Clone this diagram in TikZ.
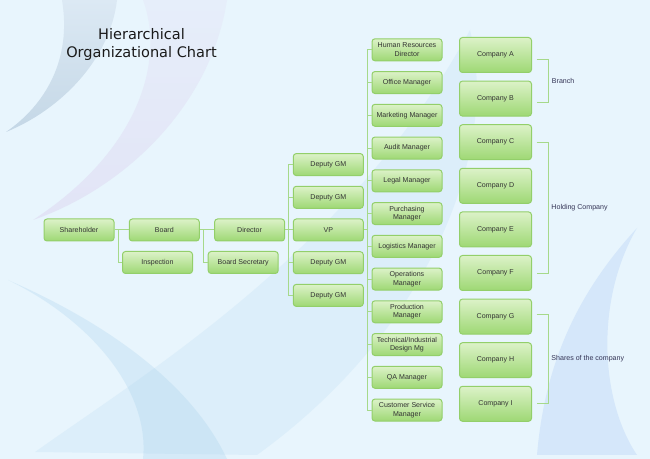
\documentclass[tikz,border=0pt]{standalone}
\usepackage{fontspec}
\setmainfont{Liberation Sans}
\newfontfamily\titlefont{DejaVu Sans}
\newcommand\boxfont{\fontsize{5.3}{6.5}\selectfont}
\definecolor{bg}{HTML}{E8F5FD}
\definecolor{gtop}{HTML}{DCF2C8}
\definecolor{gbot}{HTML}{9ED874}
\definecolor{boxline}{HTML}{93CF6A}
\definecolor{linkc}{HTML}{A6D98A}
\definecolor{txt}{HTML}{333333}
\definecolor{lblc}{HTML}{333355}
\definecolor{titlec}{HTML}{1A1A1A}
\definecolor{swgraytop}{HTML}{DCE9F4}
\definecolor{swgraybot}{HTML}{C4D7E6}
\definecolor{swlavtop}{HTML}{E6EEFA}
\definecolor{swlavbot}{HTML}{E2E4F6}
\definecolor{swblue}{HTML}{A0CDEB}
\definecolor{swright}{HTML}{D5E7FA}
\begin{document}
\begin{tikzpicture}[x=0.75pt,y=-0.75pt,
  box/.style={draw=boxline, line width=0.75pt, rounded corners=2.25pt,
    top color=gtop, bottom color=gbot, inner sep=0pt, align=center,
    font=\boxfont, text=txt, minimum width=52.5pt, minimum height=16.5pt},
  cbox/.style={box, minimum width=54pt, minimum height=26.25pt},
  link/.style={draw=linkc, line width=0.75pt},
  lbl/.style={font=\boxfont, text=lblc, anchor=west, inner sep=0pt}]
% background
\fill[bg] (0,0) rectangle (650,459);
\useasboundingbox (0,0) rectangle (650,459);
\shade[top color=swgraytop, bottom color=swgraybot] (6,132) .. controls (45,105) and (72,60) .. (62,0) -- (117,0) .. controls (110,60) and (60,110) .. (6,132);
\shade[top color=swlavtop, bottom color=swlavbot] (143,0) .. controls (165,60) and (140,150) .. (33,220) .. controls (120,190) and (210,110) .. (227,0) -- cycle;
\fill[swblue, fill opacity=0.25] (8,280) .. controls (90,320) and (150,390) .. (143,459) -- (227,459) .. controls (190,380) and (100,320) .. (8,280);
\fill[swblue, fill opacity=0.16] (35,452) .. controls (150,370) and (350,250) .. (470,30) .. controls (500,150) and (430,330) .. (257,455) -- cycle;
\fill[swright] (637,228) .. controls (580,290) and (545,360) .. (537,455) -- (637,455) .. controls (600,400) and (595,300) .. (637,228);
% title
\node[font=\titlefont\fontsize{10.9}{13.5}\selectfont, align=center, text=titlec] (title) at (141.5,44.5) {Hierarchical\\Organizational Chart};
% left part
\node[box] (sh) at (79,230) {Shareholder};
\node[box] (bd) at (164.3,230) {Board};
\node[box] (dir) at (249.6,230) {Director};
\node[box] (insp) at (157.5,262.5) {Inspection};
\node[box] (bsec) at (243.2,262.5) {Board Secretary};
% deputies
\node[box] (dg1) at (328.3,164.6) {Deputy GM};
\node[box] (dg2) at (328.3,197.3) {Deputy GM};
\node[box] (vp) at (328.3,230) {VP};
\node[box] (dg4) at (328.3,262.7) {Deputy GM};
\node[box] (dg5) at (328.3,295.4) {Deputy GM};
% managers
\node[box] (m1) at (407,49.8) {Human Resources\\Director};
\node[box] (m2) at (407,82.55) {Office Manager};
\node[box] (m3) at (407,115.3) {Marketing Manager};
\node[box] (m4) at (407,148.05) {Audit Manager};
\node[box] (m5) at (407,180.8) {Legal Manager};
\node[box] (m6) at (407,213.55) {Purchasing\\Manager};
\node[box] (m7) at (407,246.3) {Logistics Manager};
\node[box] (m8) at (407,279.05) {Operations\\Manager};
\node[box] (m9) at (407,311.8) {Production\\Manager};
\node[box] (m10) at (407,344.55) {Technical/Industrial\\Design Mg};
\node[box] (m11) at (407,377.3) {QA Manager};
\node[box] (m12) at (407,410.05) {Customer Service\\Manager};
% companies
\node[cbox] (cA) at (495.5,55) {Company A};
\node[cbox] (cB) at (495.5,98.6) {Company B};
\node[cbox] (cC) at (495.5,142.2) {Company C};
\node[cbox] (cD) at (495.5,185.8) {Company D};
\node[cbox] (cE) at (495.5,229.4) {Company E};
\node[cbox] (cF) at (495.5,273) {Company F};
\node[cbox] (cG) at (495.5,316.6) {Company G};
\node[cbox] (cH) at (495.5,360.2) {Company H};
\node[cbox] (cI) at (495.5,403.8) {Company I};
% connectors
\coordinate (j1) at (118.3,230);
\coordinate (j2) at (203.3,230);
\coordinate (j3) at (288.7,230);
\coordinate (j4) at (367,230);
\draw[link] (sh) -- (bd);
\draw[link] (j1) |- (insp.west);
\draw[link] (bd) -- (dir);
\draw[link] (j2) |- (bsec.west);
\draw[link] (dir) -- (vp);
\foreach \d in {dg1,dg2,dg4,dg5} \draw[link] (j3) |- (\d.west);
\draw[link] (vp) -- (j4);
\foreach \m in {m1,m2,m3,m4,m5,m6,m7,m8,m9,m10,m11,m12} \draw[link] (j4) |- (\m.west);
% brackets
\coordinate (bA1) at (536.7,59.3);
\coordinate (bA2) at (536.7,102.5);
\coordinate (bC1) at (536.7,142.5);
\coordinate (bC2) at (536.7,273.2);
\coordinate (bG1) at (536.7,315);
\coordinate (bG2) at (536.7,404);
\draw[link] (bA1) -- ++(11.6,0) |- (bA2);
\draw[link] (bC1) -- ++(11.6,0) |- (bC2);
\draw[link] (bG1) -- ++(11.6,0) |- (bG2);
\node[lbl] (lbA) at (551.7,80.9) {Branch};
\node[lbl] (lbC) at (551.2,207.5) {Holding Company};
\node[lbl] (lbG) at (551.2,358.8) {Shares of the company};
\end{tikzpicture}
\end{document}
